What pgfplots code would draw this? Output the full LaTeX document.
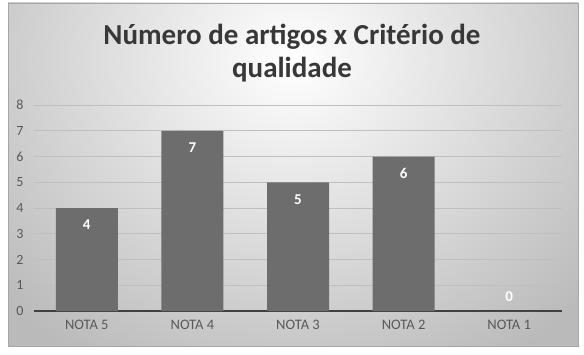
\documentclass[border=0pt]{standalone}
\usepackage{pgfplots}
\pgfplotsset{compat=1.18}
\usepackage{fontspec}
\setmainfont{Carlito}
\definecolor{barcol}{HTML}{6D6D6D}
\definecolor{titlecol}{HTML}{383838}
\definecolor{tickcol}{HTML}{595959}
\begin{document}
\begin{tikzpicture}[x=1pt,y=1pt]
\fill[white] (0,0) rectangle (584,354);
\begin{scope}
\clip (8,8) rectangle (578,351);
\shade[inner color=white, outer color=black!27] (-100,-60) rectangle (686,648);
\end{scope}
\draw[black!35, line width=0.8pt] (8,8) rectangle (578,351);
\node[font=\bfseries\fontsize{29}{33}\selectfont, text=titlecol, anchor=base, inner sep=0pt] at (292,309) {Número de artigos x Critério de};
\node[font=\bfseries\fontsize{29}{33}\selectfont, text=titlecol, anchor=base, inner sep=0pt] at (292,276) {qualidade};
\begin{axis}[
  at={(34pt,43pt)}, anchor=south west,
  width=528pt, height=206pt, scale only axis,
  ymin=0, ymax=8, xmin=-0.5, xmax=4.5,
  ytick={0,...,8},
  xtick={0,1,2,3,4},
  xticklabels={NOTA 5,NOTA 4,NOTA 3,NOTA 2,NOTA 1},
  ymajorgrids,
  grid style={black!25, line width=1pt},
  extra y ticks={0},
  extra y tick labels={},
  extra y tick style={grid style={black!75, line width=2pt}},
  axis line style={draw=none},
  major tick length=0pt,
  tick label style={text=tickcol},
  yticklabel style={font=\fontsize{14}{14}\selectfont, xshift=-7pt},
  xticklabel style={font=\fontsize{14.5}{14.5}\selectfont, yshift=-6pt},
  /pgf/number format/assume math mode=true,
  clip=false,
]
\addplot[ybar, bar width=62pt, bar shift=0pt, fill=barcol, draw=none]
  coordinates {(0,4) (1,7) (2,5) (3,6) (4,0)};
\addplot[draw=none, mark=none, nodes near coords,
  nodes near coords style={anchor=center, yshift=-17pt, text=white, font=\bfseries\fontsize{15}{15}\selectfont}]
  coordinates {(0,4) (1,7) (2,5) (3,6)};
\addplot[draw=none, mark=none, nodes near coords,
  nodes near coords style={anchor=center, yshift=14pt, text=white, font=\bfseries\fontsize{15}{15}\selectfont}]
  coordinates {(4,0)};
\end{axis}
\end{tikzpicture}
\end{document}
